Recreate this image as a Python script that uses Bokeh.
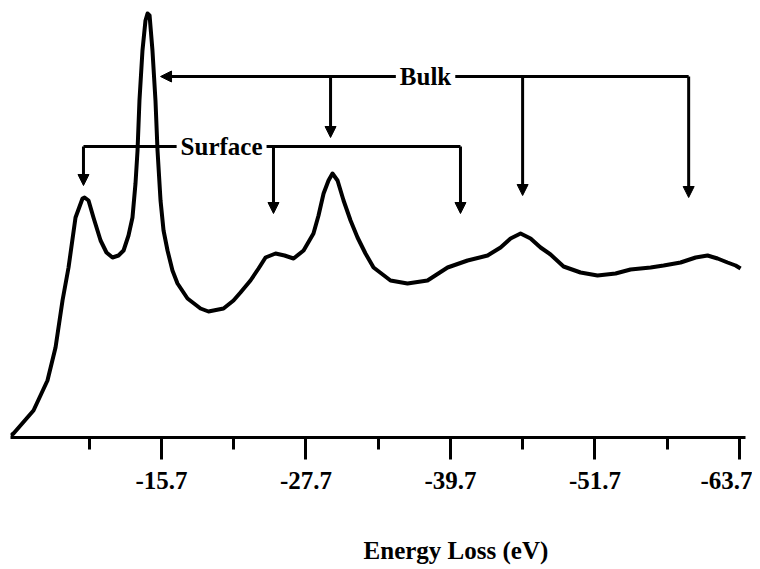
from bokeh.plotting import figure
from bokeh.layouts import column
from bokeh.models import (Range1d, FixedTicker, PrintfTickFormatter, Arrow, NormalHead, Label)
from bokeh.core.properties import value
from bokeh.embed import file_html
from bokeh.resources import INLINE

# ---- data (energy loss in eV, intensity in arbitrary units) ----
energy_loss = [-3.16, -3.41, -5.07, -6.23, -6.90, -7.48, -7.98, -8.56, -9.14, -9.31,
               -9.64, -10.05, -10.64, -11.13, -11.63, -12.13, -12.55, -12.96, -13.29, -13.54,
               -13.71, -13.87, -14.12, -14.37, -14.54, -14.71, -14.95, -15.20, -15.37, -15.62,
               -15.87, -16.20, -16.61, -17.03, -17.86, -18.94, -19.60, -20.85, -21.68, -22.26,
               -23.09, -23.76, -24.34, -25.17, -25.92, -26.67, -27.50, -28.32, -28.74, -29.16,
               -29.57, -29.90, -30.32, -30.82, -31.40, -31.98, -32.64, -33.31, -34.72, -36.13,
               -37.79, -39.46, -41.12, -42.78, -43.86, -44.69, -45.52, -46.35, -47.18, -48.01,
               -49.09, -50.50, -51.91, -53.41, -54.65, -56.32, -57.40, -58.81, -60.06, -61.05,
               -61.88, -62.71, -63.38, -63.79]
intensity = [2, 4, 27, 57, 90, 137, 170, 220, 239, 240,
             237, 220, 197, 185, 180, 182, 187, 202, 220, 254,
             287, 337, 387, 417, 424, 422, 387, 337, 287, 237,
             207, 187, 167, 154, 139, 129, 126, 129, 137, 145,
             157, 169, 180, 184, 182, 179, 187, 204, 222, 244,
             257, 264, 257, 237, 217, 200, 184, 170, 157, 154,
             157, 170, 177, 182, 190, 199, 204, 199, 190, 183,
             171, 165, 162, 164, 168, 170, 172, 175, 180, 182,
             179, 175, 172, 169]

major_ticks = [-15.7, -27.7, -39.7, -51.7, -63.7]
minor_ticks = [-9.7, -21.7, -33.7, -45.7, -57.7]

# plasmon assignments
surface_loss = [-9.22, -25.0, -40.53]
surface_tip = [252, 224, 224]
surface_level = 291
bulk_loss = [-29.74, -45.69, -59.48]
bulk_tip = [300, 242, 240]
bulk_main_peak = -15.62
bulk_level = 361

x_title = "Energy Loss (eV)"
x_title_start = -32.48
FONT = "Liberation Serif"

p = figure(width=752, height=505, output_backend="svg", toolbar_location=None,
           x_range=Range1d(-3.16, -64.2), y_range=Range1d(0, 427),
           y_axis_location=None, min_border_left=10, min_border_right=7,
           min_border_top=10, min_border_bottom=68)
p.outline_line_color = None
p.xgrid.grid_line_color = None
p.ygrid.grid_line_color = None
p.background_fill_color = "white"
p.border_fill_color = "white"

p.line(energy_loss, intensity, line_color="black", line_width=4, line_join="round")

ax = p.xaxis[0]
ax.ticker = FixedTicker(ticks=major_ticks, minor_ticks=minor_ticks)
ax.formatter = PrintfTickFormatter(format="%.1f")
ax.axis_line_width = 3
ax.axis_line_color = "black"
ax.major_tick_out = 22
ax.major_tick_in = 0
ax.minor_tick_out = 12
ax.minor_tick_in = 0
ax.major_tick_line_width = 3
ax.minor_tick_line_width = 3
ax.major_label_standoff = 12
ax.major_label_text_font = FONT
ax.major_label_text_font_style = "bold"
ax.major_label_text_font_size = "25px"
ax.major_label_text_color = "black"

def arrow(x0, y0, x1, y1):
    p.add_layout(Arrow(end=NormalHead(size=11, fill_color="black", line_color="black"),
                       x_start=x0, y_start=y0, x_end=x1, y_end=y1,
                       line_width=3, line_color="black"))

# surface: horizontal line plus drops
p.segment(x0=[surface_loss[0]], y0=[surface_level], x1=[surface_loss[-1]], y1=[surface_level],
          line_color="black", line_width=3)
for xl, tip in zip(surface_loss, surface_tip):
    arrow(xl, surface_level, xl, tip)

# bulk: horizontal arrow to main peak plus drops
arrow(bulk_loss[-1], bulk_level, bulk_main_peak, bulk_level)
for xl, tip in zip(bulk_loss, bulk_tip):
    arrow(xl, bulk_level, xl, tip)

for txt, xv, yv in [("Surface", -20.69, surface_level), ("Bulk", -37.63, bulk_level)]:
    p.add_layout(Label(x=xv, y=yv, text=txt, text_align="center", text_baseline="middle",
                       text_font=FONT, text_font_style="bold", text_font_size="25px",
                       text_color="black", background_fill_color="white", padding=4))

# strip below the plot holding the axis title (offset to the right, as in the original)
t = figure(width=752, height=62, output_backend="svg", toolbar_location=None,
           x_range=p.x_range, y_range=Range1d(0, 62),
           x_axis_location=None, y_axis_location=None, min_border_left=10, min_border_right=7,
           min_border_top=0, min_border_bottom=0)
t.outline_line_color = None
t.xgrid.grid_line_color = None
t.ygrid.grid_line_color = None
t.text(x=[x_title_start], y=[17], text=[x_title], text_align="left", text_baseline="middle",
       text_font=value(FONT), text_font_style="bold", text_font_size="25px", text_color="black")

open("out.html", "w").write(file_html(column(p, t, spacing=0), INLINE))
